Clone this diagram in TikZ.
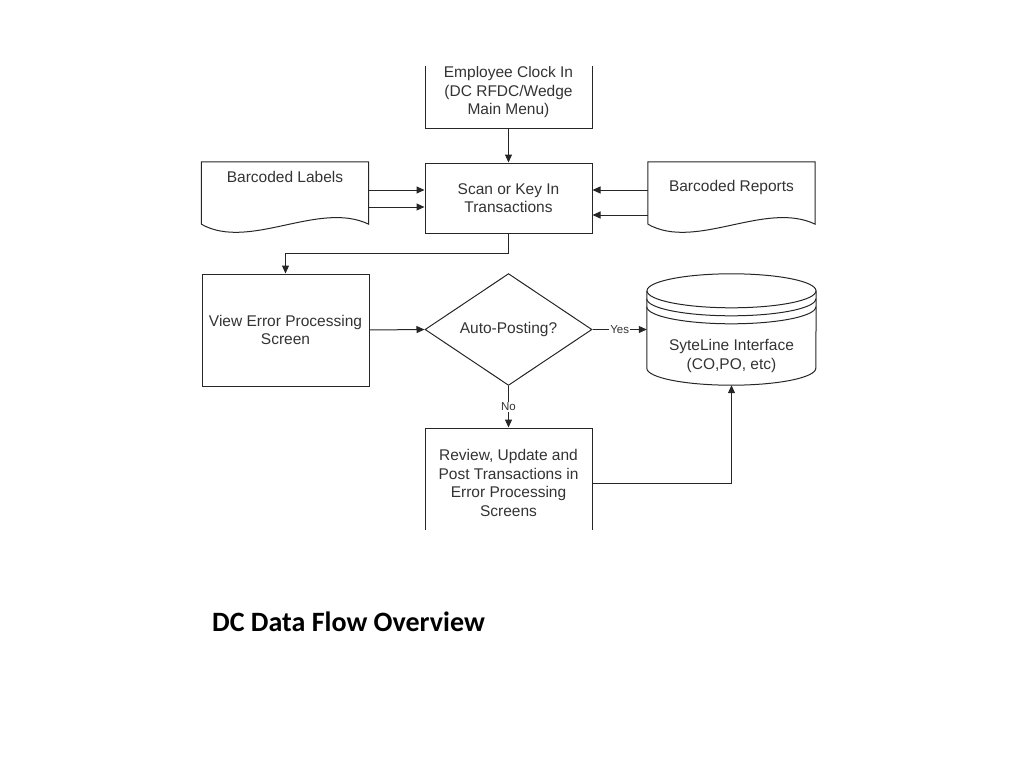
\documentclass[tikz,border=0pt]{standalone}
\usepackage{fontspec}
\setmainfont{Liberation Sans}
\newfontfamily\titlefont{Carlito}
\usetikzlibrary{shapes.geometric,arrows.meta,calc,positioning}

\tikzset{
  line/.style={draw=black!85, line width=1bp},
  txt/.style={text=black!80, align=center, font=\fontsize{15.5bp}{18.5bp}\selectfont},
  box/.style={line, txt, minimum width=167bp},
  doc/.style={minimum width=167bp, minimum height=62bp, inner sep=0},
  flow/.style={line, -{Triangle[length=8bp,width=7bp]}},
  tag/.style={fill=white, inner sep=1bp, text=black!80, font=\fontsize{11.5bp}{13bp}\selectfont}
}

\begin{document}
\begin{tikzpicture}[x=1bp,y=-1bp]
\useasboundingbox (0,0) rectangle (1024,768);
\begin{scope}
\clip (0,67) rectangle (1024,529);
\node[box, minimum height=72bp] (clock) at (508.5,92) {Employee Clock In\\(DC RFDC/Wedge\\Main Menu)};
\node[box, minimum height=70bp] (scan) at (508.5,198) {Scan or Key In\\Transactions};
\node[doc] (lbl) at (285,193) {};
\node[txt, below=6bp of lbl.north] (lbltxt) {Barcoded Labels};
\node[doc] (rep) at (731.5,193) {};
\node[txt, below=15bp of rep.north] (reptxt) {Barcoded Reports};
\foreach \d in {lbl,rep} {
  \draw[line] (\d.south west) -- (\d.north west) -- (\d.north east) -- (\d.south east)
    .. controls ($(\d.south east)+(-50,-24)$) and ($(\d.south west)+(48,27)$) .. (\d.south west);
}
\node[box, minimum height=112bp] (view) at (285.5,330) {View Error Processing\\Screen};
\node[line, txt, diamond, minimum width=167bp, minimum height=111bp, inner sep=0] (dec) at (508.5,329.5) {Auto-Posting?};
\node[doc, minimum width=169bp, minimum height=77bp] (syte) at (731.5,329.5) {};
\node[txt] (sytetxt) at ([yshift=-26.5bp]syte.center) {SyteLine Interface\\(CO,PO, etc)};
\draw[line] (syte.north) ellipse[x radius=84.5bp, y radius=17bp];
\draw[line] (syte.north west) -- (syte.south west) arc[start angle=180, end angle=360, x radius=84.5bp, y radius=17bp] -- (syte.north east);
\foreach \s in {8,16} {
  \draw[line] ([yshift=-\s bp]syte.north west) arc[start angle=180, end angle=360, x radius=84.5bp, y radius=17bp];
}
\node[box, minimum height=110bp] (rev) at (508.5,483) {Review, Update and\\Post Transactions in\\Error Processing\\Screens};
\draw[flow] (clock.south) -- (scan.north);
\draw[flow] ([yshift=3bp]lbl.east) -- ([yshift=3bp]lbl.east -| scan.west);
\draw[flow] ([yshift=-14bp]lbl.east) -- ([yshift=-14bp]lbl.east -| scan.west);
\draw[flow] ([yshift=3bp]rep.west) -- ([yshift=3bp]rep.west -| scan.east);
\draw[flow] ([yshift=-22bp]rep.west) -- ([yshift=-22bp]rep.west -| scan.east);
\draw[flow] (scan.south) -- ++(0,20) -| (view.north);
\draw[flow] (view.east) -- (dec.west);
\draw[flow] (dec.east) -- node[tag] {Yes} (dec.east -| syte.west);
\draw[flow] (dec.south) -- node[tag] {No} (rev.north);
\draw[flow] (rev.east) -| ([yshift=-17bp]syte.south);
\end{scope}
\node[anchor=base west, inner sep=0, font=\titlefont\bfseries\fontsize{28bp}{32bp}\selectfont] (title) at (212,631) {DC Data Flow Overview};
\end{tikzpicture}
\end{document}
